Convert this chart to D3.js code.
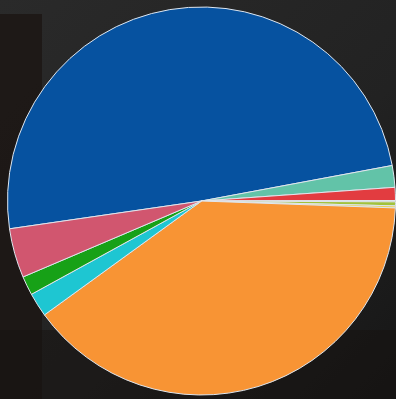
<!DOCTYPE html>
<html>
<head>
<meta charset="utf-8">
<script src="https://cdn.jsdelivr.net/npm/d3@7"></script>
<style>
html,body{margin:0;padding:0;background:#242424;overflow:hidden;}
svg{display:block;}
</style>
</head>
<body>
<svg id="chart" width="396" height="399"></svg>
<script>
// Slice categories in clockwise order, starting with the large blue slice
const categories = ["A", "B", "C", "D", "E", "F", "G", "H", "I", "J"];
// Values (share of the pie, in degrees of arc)
const values = [177.7, 6.5, 3.9, 0.4, 1.2, 0.6, 142.0, 7.2, 5.7, 14.8];
const colors = ["#0652a0", "#62c3a8", "#e23c40", "#e0cdb8", "#a2c23c", "#e6d24a", "#f89434", "#1ec6d2", "#17a117", "#d1566f"];

const W = 396, H = 399;
const cx = 201.5, cy = 201, r = 194;
const svg = d3.select("#chart");

// dark photo-like backdrop
const defs = svg.append("defs");
const g0 = defs.append("linearGradient").attr("id", "bg").attr("x1", 0).attr("y1", 0).attr("x2", 1).attr("y2", 1);
g0.append("stop").attr("offset", "0%").attr("stop-color", "#2a2a2a");
g0.append("stop").attr("offset", "60%").attr("stop-color", "#222222");
g0.append("stop").attr("offset", "100%").attr("stop-color", "#161616");
svg.append("rect").attr("width", W).attr("height", H).attr("fill", "url(#bg)");
svg.append("rect").attr("x", 0).attr("y", 14).attr("width", 42).attr("height", 385).attr("fill", "#1c1513").attr("opacity", 0.8);
svg.append("rect").attr("x", 0).attr("y", 330).attr("width", W).attr("height", 69).attr("fill", "#161210").attr("opacity", 0.5);

const startDeg = -98.25;
const pie = d3.pie().sort(null).value(d => d)
  .startAngle(startDeg * Math.PI / 180)
  .endAngle((startDeg + 360) * Math.PI / 180);
const arc = d3.arc().innerRadius(0).outerRadius(r);

const color = d3.scaleOrdinal().domain(categories).range(colors);

svg.append("g").attr("transform", `translate(${cx},${cy})`)
  .selectAll("path")
  .data(pie(values))
  .join("path")
  .attr("d", arc)
  .attr("fill", (d, i) => color(categories[i]))
  .attr("stroke", "#dfe6ee")
  .attr("stroke-width", 1)
  .attr("stroke-linejoin", "round");
</script>
</body>
</html>
